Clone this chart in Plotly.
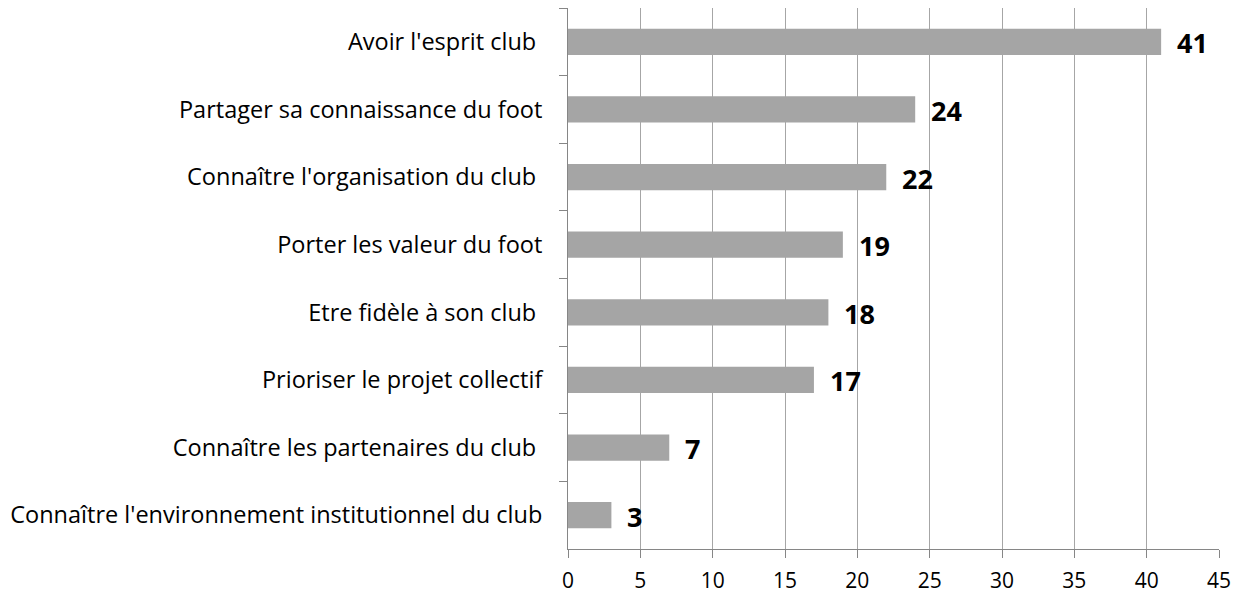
import plotly.graph_objects as go

categories = [
    "Avoir l'esprit club\u00a0",
    "Partager sa connaissance du foot",
    "Connaître l'organisation du club\u00a0",
    "Porter les valeur du foot",
    "Etre fidèle à son club\u00a0",
    "Prioriser le projet collectif",
    "Connaître les partenaires du club\u00a0",
    "Connaître l'environnement institutionnel du club",
]
values = [41, 24, 22, 19, 18, 17, 7, 3]
x_ticks = [0, 5, 10, 15, 20, 25, 30, 35, 40, 45]

FONT = "Open Sans"

fig = go.Figure()
fig.add_trace(go.Bar(
    x=values,
    y=categories,
    orientation="h",
    marker=dict(color="#A5A5A5", line=dict(width=0)),
    width=0.39,
    hoverinfo="x+y",
))

for c, v in zip(categories, values):
    fig.add_annotation(
        x=v, y=c, text=f"<b>{v}</b>", showarrow=False,
        xanchor="left", xshift=14, yshift=-1,
        font=dict(family=FONT, size=27, color="#000000"),
    )

fig.update_layout(
    width=1244, height=593,
    margin=dict(l=568, r=25, t=8, b=44, autoexpand=False),
    plot_bgcolor="white", paper_bgcolor="white",
    showlegend=False,
    font=dict(family=FONT, size=21, color="#000000"),
    xaxis=dict(
        range=[0, 45], tickvals=x_ticks, ticktext=[str(t) for t in x_ticks],
        showgrid=True, gridcolor="#A6A6A6", gridwidth=1,
        showline=True, linecolor="#868686", linewidth=1,
        ticks="outside", ticklen=8, tickcolor="#868686",
        ticklabelstandoff=5, automargin=False,
        zeroline=False, fixedrange=True,
        tickfont=dict(family=FONT, size=21),
    ),
    yaxis=dict(
        type="category", autorange="reversed", automargin=False,
        showgrid=False, showline=True, linecolor="#868686", linewidth=1,
        ticks="outside", ticklen=8, tickcolor="#868686", tickson="boundaries",
        ticklabelstandoff=20,
        tickfont=dict(family=FONT, size=23.5),
    ),
)

fig.write_html(
    "out.html",
    config={"displayModeBar": False},
    post_script="document.body.style.margin='0';document.body.style.padding='0';",
)
